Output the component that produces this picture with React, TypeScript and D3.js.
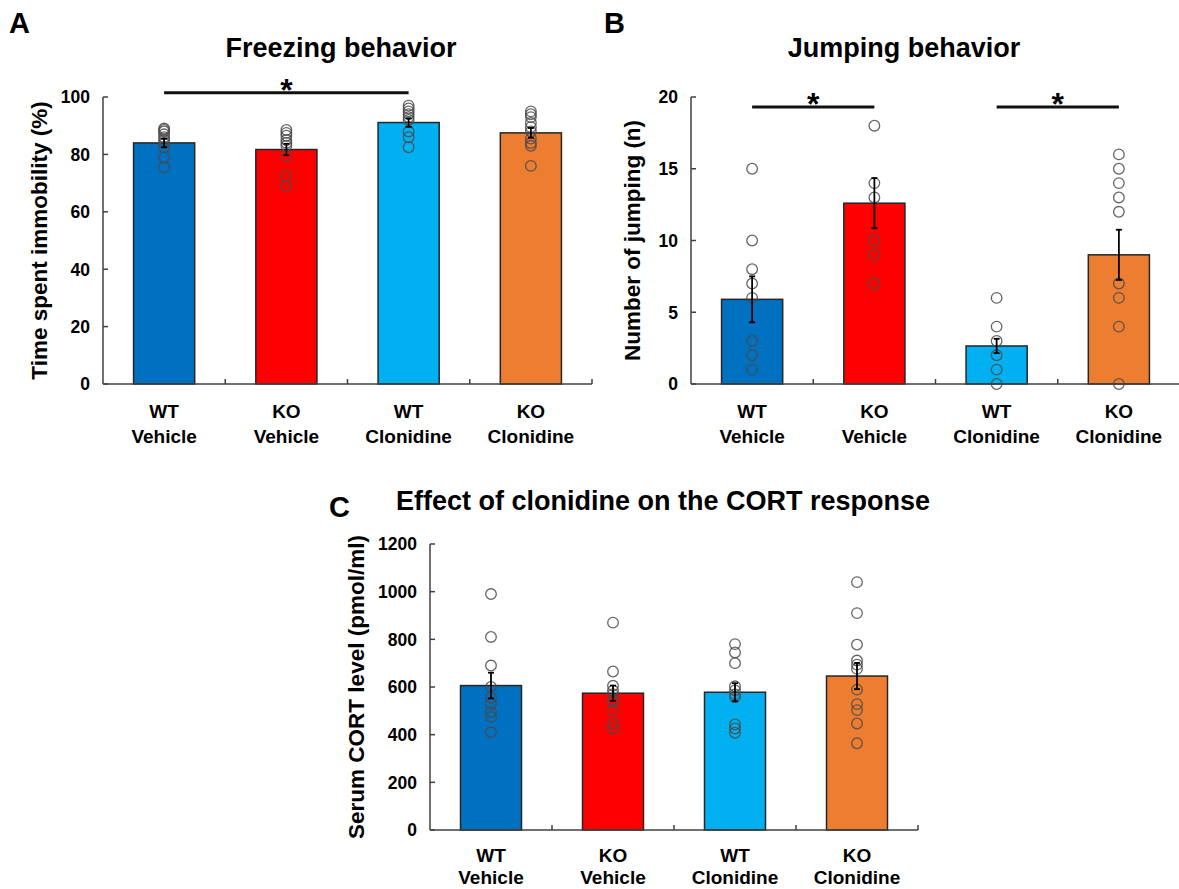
import React from 'react';
import * as d3 from 'd3';

// groups (two-line labels)
const line1 = ['WT', 'KO', 'WT', 'KO'];
const line2 = ['Vehicle', 'Vehicle', 'Clonidine', 'Clonidine'];
const barColors = ['#0070C0', '#FF0000', '#00B0F0', '#ED7D31'];

// A: freezing behavior (% time immobile)
const freezeMean = [84, 81.7, 91.1, 87.5];
const freezeSem = [1.5, 2.0, 1.5, 1.7];
const freezePts = [
  [89, 88.5, 88, 87, 86, 85, 84, 82.5, 79, 75.5],
  [88.5, 87.5, 86.5, 85, 84, 83, 79.5, 72.5, 69],
  [97, 96, 95, 94, 93, 92, 88, 86, 82.5],
  [95, 94, 93, 91, 89.5, 88, 85.5, 84, 83, 76],
];
const freezeTicks = [0, 20, 40, 60, 80, 100];

// B: jumping behavior (n)
const jumpMean = [5.9, 12.6, 2.65, 9.0];
const jumpSem = [1.6, 1.75, 0.5, 1.75];
const jumpPts = [
  [15, 10, 8, 7, 6, 3, 2, 1],
  [18, 14, 13, 10, 9, 7],
  [6, 4, 3, 2, 1, 0],
  [16, 15, 14, 13, 12, 7, 6, 4, 0],
];
const jumpTicks = [0, 5, 10, 15, 20];

// C: serum CORT (pmol/ml)
const cortMean = [606, 574, 578, 646];
const cortSem = [54, 32, 38, 55];
const cortPts = [
  [990, 810, 690, 600, 555, 530, 495, 475, 410],
  [870, 665, 605, 585, 570, 545, 537, 503, 447, 426],
  [780, 745, 700, 603, 586, 569, 558, 443, 426, 408],
  [1040, 910, 778, 711, 694, 676, 589, 528, 503, 447, 364],
];
const cortTicks = [0, 200, 400, 600, 800, 1000, 1200];

const FONT = "'Liberation Sans', Arial, sans-serif";

type PanelProps = {
  letter: string;
  letterX: number;
  letterY: number;
  title: string;
  titleX: number;
  titleY: number;
  yLabel: string;
  yLabelX: number;
  x0: number;
  x1: number;
  yTop: number;
  yBot: number;
  max: number;
  ticks: number[];
  means: number[];
  sems: number[];
  pts: number[][];
  sig: [number, number, number][]; // [from index, to index, value]
  labelDy: [number, number];
};

function Panel(p: PanelProps) {
  const x = d3
    .scaleBand<number>()
    .domain(d3.range(4))
    .range([p.x0, p.x1])
    .paddingInner(0.5)
    .paddingOuter(0.25);
  const y = d3.scaleLinear().domain([0, p.max]).range([p.yBot, p.yTop]);
  const step = x.step();
  const bw = x.bandwidth();
  const cx = (i: number) => (x(i) as number) + bw / 2;
  const boundaries = [1, 2, 3, 4].map((k) => p.x0 + k * step);

  return (
    <g>
      <text x={p.letterX} y={p.letterY} fontSize={29} fontWeight="bold" fontFamily={FONT}>
        {p.letter}
      </text>
      <text x={p.titleX} y={p.titleY} textAnchor="middle" fontSize={27} fontWeight="bold" fontFamily={FONT}>
        {p.title}
      </text>
      <text
        transform={`translate(${p.yLabelX},${(p.yTop + p.yBot) / 2}) rotate(-90)`}
        textAnchor="middle"
        fontSize={22.5}
        fontWeight="bold"
        fontFamily={FONT}
      >
        {p.yLabel}
      </text>

      {/* bars */}
      {p.means.map((m, i) => (
        <rect
          key={'b' + i}
          x={x(i)}
          y={y(m)}
          width={bw}
          height={p.yBot - y(m)}
          fill={barColors[i]}
          stroke="#262626"
          strokeWidth={1.5}
        />
      ))}

      {/* points */}
      {p.pts.map((arr, i) =>
        arr.map((v, j) => (
          <circle
            key={'p' + i + '-' + j}
            cx={cx(i)}
            cy={y(v)}
            r={5.3}
            fill="none"
            stroke="#4a4a4a"
            strokeOpacity={0.85}
            strokeWidth={1.3}
          />
        ))
      )}

      {/* error bars */}
      {p.means.map((m, i) => (
        <g key={'e' + i} stroke="#000" strokeWidth={1.8}>
          <line x1={cx(i)} x2={cx(i)} y1={y(m + p.sems[i])} y2={y(m - p.sems[i])} />
          <line x1={cx(i) - 3} x2={cx(i) + 3} y1={y(m + p.sems[i])} y2={y(m + p.sems[i])} />
          <line x1={cx(i) - 3} x2={cx(i) + 3} y1={y(m - p.sems[i])} y2={y(m - p.sems[i])} />
        </g>
      ))}

      {/* axes */}
      <g stroke="#404040" strokeWidth={1.5} fill="none">
        <line x1={p.x0} x2={p.x0} y1={p.yTop} y2={p.yBot} />
        <line x1={p.x0} x2={p.x1} y1={p.yBot} y2={p.yBot} />
        {p.ticks.map((t) => (
          <line key={'t' + t} x1={p.x0} x2={p.x0 + 5} y1={y(t)} y2={y(t)} />
        ))}
        {boundaries.map((b, k) => (
          <line key={'xb' + k} x1={b} x2={b} y1={p.yBot} y2={p.yBot - 5} />
        ))}
      </g>
      {p.ticks.map((t) => (
        <text
          key={'tl' + t}
          x={p.x0 - 13}
          y={y(t)}
          dy="0.36em"
          textAnchor="end"
          fontSize={17.5}
          fontWeight="bold"
          fontFamily={FONT}
        >
          {t}
        </text>
      ))}
      {line1.map((s, i) => (
        <text key={'xl' + i} textAnchor="middle" fontSize={19} fontWeight="bold" fontFamily={FONT}>
          <tspan x={cx(i)} y={p.yBot + p.labelDy[0]}>{s}</tspan>
          <tspan x={cx(i)} y={p.yBot + p.labelDy[1]}>{line2[i]}</tspan>
        </text>
      ))}

      {/* significance */}
      {p.sig.map(([a, b, v], k) => (
        <g key={'s' + k}>
          <line x1={cx(a)} x2={cx(b)} y1={y(v)} y2={y(v)} stroke="#111" strokeWidth={3} />
          <text
            x={(cx(a) + cx(b)) / 2}
            y={y(v) + 8}
            textAnchor="middle"
            fontSize={32}
            fontWeight="bold"
            fontFamily={FONT}
          >
            *
          </text>
        </g>
      ))}
    </g>
  );
}

export default function App() {
  return (
    <svg
      width={1179}
      height={889}
      style={{ position: 'absolute', left: 0, top: 0, background: '#fff' }}
    >
      <Panel
        letter="A"
        letterX={9}
        letterY={33}
        title="Freezing behavior"
        titleX={341}
        titleY={57}
        yLabel="Time spent immobility (%)"
        yLabelX={47}
        x0={103}
        x1={592}
        yTop={97}
        yBot={384}
        max={100}
        ticks={freezeTicks}
        means={freezeMean}
        sems={freezeSem}
        pts={freezePts}
        sig={[[0, 2, 101.5]]}
        labelDy={[34, 59]}
      />
      <Panel
        letter="B"
        letterX={604}
        letterY={33}
        title="Jumping behavior"
        titleX={904}
        titleY={57}
        yLabel="Number of jumping (n)"
        yLabelX={640}
        x0={691}
        x1={1180}
        yTop={97}
        yBot={384}
        max={20}
        ticks={jumpTicks}
        means={jumpMean}
        sems={jumpSem}
        pts={jumpPts}
        sig={[
          [0, 1, 19.3],
          [2, 3, 19.3],
        ]}
        labelDy={[34, 59]}
      />
      <Panel
        letter="C"
        letterX={329}
        letterY={517}
        title="Effect of clonidine on the CORT response"
        titleX={663}
        titleY={510}
        yLabel="Serum CORT level (pmol/ml)"
        yLabelX={364}
        x0={430}
        x1={918}
        yTop={544}
        yBot={830}
        max={1200}
        ticks={cortTicks}
        means={cortMean}
        sems={cortSem}
        pts={cortPts}
        sig={[]}
        labelDy={[32, 54]}
      />
    </svg>
  );
}
